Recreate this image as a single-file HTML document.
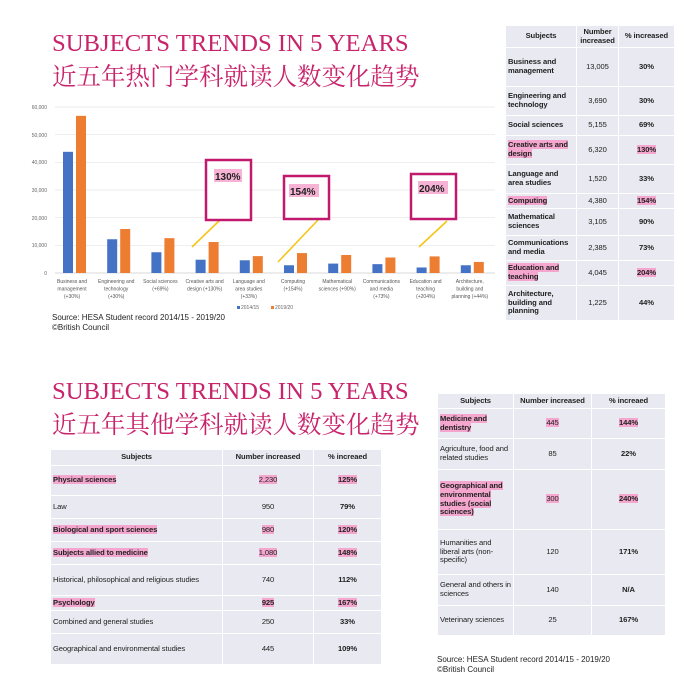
<!DOCTYPE html>
<html><head><meta charset="utf-8"><style>
*{margin:0;padding:0;box-sizing:border-box}
body{width:695px;height:693px;background:#fff;position:relative;overflow:hidden;font-family:"Liberation Sans","Noto Sans CJK SC",sans-serif;color:#222}
.t1{position:absolute;font-family:"Liberation Serif",serif;color:#c8246c;font-size:24.7px;white-space:nowrap}
.t2{position:absolute;font-family:"Liberation Serif","Noto Serif CJK SC",serif;color:#c8246c;font-size:24.5px;white-space:nowrap}
table{position:absolute;border-collapse:collapse;table-layout:fixed;font-size:7.6px;background:#e9eaf1;letter-spacing:-0.1px}
td{border:1.5px solid #fff;padding:0 2px;vertical-align:middle;line-height:1.15;overflow:hidden}
.c{text-align:center}.b{font-weight:bold}
.h{background:#f4a6cf}
.src{position:absolute;font-size:8px;line-height:10px;color:#222}
</style></head><body>
<div class="t1" style="left:52px;top:30px">SUBJECTS TRENDS IN 5 YEARS</div>
<div class="t2" style="left:52px;top:58px">近五年热门学科就读人数变化趋势</div>

<svg style="position:absolute;left:0;top:95px" width="500" height="240" viewBox="0 95 500 240">
<g stroke="#e4e4e4" stroke-width="0.7">
<line x1="55" y1="107" x2="495" y2="107"/><line x1="55" y1="134.7" x2="495" y2="134.7"/><line x1="55" y1="162.3" x2="495" y2="162.3"/><line x1="55" y1="190" x2="495" y2="190"/><line x1="55" y1="217.7" x2="495" y2="217.7"/><line x1="55" y1="245.3" x2="495" y2="245.3"/><line x1="55" y1="273" x2="495" y2="273" stroke="#ccc"/>
</g>
<g font-size="5" fill="#666" text-anchor="end" font-family="Liberation Sans">
<text x="47" y="109">60,000</text><text x="47" y="137">50,000</text><text x="47" y="164">40,000</text><text x="47" y="192">30,000</text><text x="47" y="220">20,000</text><text x="47" y="247">10,000</text><text x="47" y="275">0</text>
</g>
<g id="bars"></g>
<g font-size="5" fill="#555" text-anchor="middle" font-family="Liberation Sans" id="labs"></g>
<g stroke="#f5c518" stroke-width="1.6">
<line x1="220" y1="220" x2="192" y2="247"/><line x1="318" y1="220" x2="278" y2="262"/><line x1="447" y1="221" x2="419" y2="247"/>
</g>
<g fill="#fff" stroke="#c0196e" stroke-width="2.5">
<rect x="206" y="160" width="45" height="60"/><rect x="284" y="176" width="45" height="43"/><rect x="411" y="174" width="45" height="45"/>
</g>
<g font-size="10" font-weight="bold" font-family="Liberation Sans" fill="#222">
<rect x="214" y="169" width="28" height="13" fill="#f7b3d5"/><text x="215" y="180">130%</text>
<rect x="289" y="184" width="30" height="13" fill="#f7b3d5"/><text x="290" y="195">154%</text>
<rect x="418" y="181" width="30" height="13" fill="#f7b3d5"/><text x="419" y="192">204%</text>
</g>
<rect x="237" y="306" width="3" height="3" fill="#4472c4"/><text x="241" y="309" font-size="5" fill="#666">2014/15</text>
<rect x="271" y="306" width="3" height="3" fill="#ed7d31"/><text x="275" y="309" font-size="5" fill="#666">2019/20</text>
</svg>
<div class="src" style="left:52px;top:313px">Source: HESA Student record 2014/15 - 2019/20<br>©British Council</div>

<table style="left:505px;top:25px;width:170px;height:295px">
<colgroup><col style="width:71px"><col style="width:42px"><col></colgroup>
<tr style="height:22px"><td class="c b">Subjects</td><td class="c b" style="padding:0">Number increased</td><td class="c b" style="padding:0">% increased</td></tr>
<tr style="height:39px"><td class="b">Business and management</td><td class="c">13,005</td><td class="c b">30%</td></tr>
<tr style="height:29px"><td class="b">Engineering and technology</td><td class="c">3,690</td><td class="c b">30%</td></tr>
<tr style="height:20px"><td class="b">Social sciences</td><td class="c">5,155</td><td class="c b">69%</td></tr>
<tr style="height:29px"><td class="b"><span class="h">Creative arts and design</span></td><td class="c">6,320</td><td class="c b"><span class="h">130%</span></td></tr>
<tr style="height:29px"><td class="b">Language and area studies</td><td class="c">1,520</td><td class="c b">33%</td></tr>
<tr style="height:15px"><td class="b"><span class="h">Computing</span></td><td class="c">4,380</td><td class="c b"><span class="h">154%</span></td></tr>
<tr style="height:27px"><td class="b">Mathematical sciences</td><td class="c">3,105</td><td class="c b">90%</td></tr>
<tr style="height:25px"><td class="b">Communications and media</td><td class="c">2,385</td><td class="c b">73%</td></tr>
<tr style="height:25px"><td class="b"><span class="h">Education and teaching</span></td><td class="c">4,045</td><td class="c b"><span class="h">204%</span></td></tr>
<tr style="height:35px"><td class="b">Architecture, building and planning</td><td class="c">1,225</td><td class="c b">44%</td></tr>
</table>

<div class="t1" style="left:52px;top:378px">SUBJECTS TRENDS IN 5 YEARS</div>
<div class="t2" style="left:52px;top:406px">近五年其他学科就读人数变化趋势</div>

<table style="left:50px;top:449px;width:332px;height:215px">
<colgroup><col style="width:172px"><col style="width:91px"><col></colgroup>
<tr style="height:16px"><td class="c b">Subjects</td><td class="c b">Number increased</td><td class="c b">% increaed</td></tr>
<tr style="height:30px"><td class="b"><span class="h">Physical sciences</span></td><td class="c"><span class="h">2,230</span></td><td class="c b"><span class="h">125%</span></td></tr>
<tr style="height:23px"><td>Law</td><td class="c">950</td><td class="c b">79%</td></tr>
<tr style="height:23px"><td class="b"><span class="h">Biological and sport sciences</span></td><td class="c"><span class="h">980</span></td><td class="c b"><span class="h">120%</span></td></tr>
<tr style="height:23px"><td class="b"><span class="h">Subjects allied to medicine</span></td><td class="c"><span class="h">1,080</span></td><td class="c b"><span class="h">148%</span></td></tr>
<tr style="height:31px"><td>Historical, philosophical and religious studies</td><td class="c">740</td><td class="c b">112%</td></tr>
<tr style="height:15px"><td class="b"><span class="h">Psychology</span></td><td class="c b"><span class="h">925</span></td><td class="c b"><span class="h">167%</span></td></tr>
<tr style="height:23px"><td>Combined and general studies</td><td class="c">250</td><td class="c b">33%</td></tr>
<tr style="height:31px"><td>Geographical and environmental studies</td><td class="c">445</td><td class="c b">109%</td></tr>
</table>

<table style="left:437px;top:393px;width:229px;height:242px">
<colgroup><col style="width:76px"><col style="width:78px"><col></colgroup>
<tr style="height:15px"><td class="c b">Subjects</td><td class="c b">Number increased</td><td class="c b">% increaed</td></tr>
<tr style="height:30px"><td class="b"><span class="h">Medicine and dentistry</span></td><td class="c"><span class="h">445</span></td><td class="c b"><span class="h">144%</span></td></tr>
<tr style="height:31px"><td>Agriculture, food and related studies</td><td class="c">85</td><td class="c b">22%</td></tr>
<tr style="height:60px"><td class="b"><span class="h">Geographical and environmental studies (social sciences)</span></td><td class="c"><span class="h">300</span></td><td class="c b"><span class="h">240%</span></td></tr>
<tr style="height:45px"><td>Humanities and liberal arts (non-specific)</td><td class="c">120</td><td class="c b">171%</td></tr>
<tr style="height:31px"><td>General and others in sciences</td><td class="c">140</td><td class="c b">N/A</td></tr>
<tr style="height:30px"><td>Veterinary sciences</td><td class="c">25</td><td class="c b">167%</td></tr>
</table>
<div class="src" style="left:437px;top:655px">Source: HESA Student record 2014/15 - 2019/20<br>©British Council</div>

<script>
var b=[43800,12200,7500,4800,4600,2800,3400,3200,2000,2800],o=[56800,15900,12600,11200,6100,7200,6500,5600,6000,4000];
var L=[["Business and","management","(+30%)"],["Engineering and","technology","(+30%)"],["Social sciences","(+69%)"],["Creative arts and","design (+130%)"],["Language and","area studies","(+33%)"],["Computing","(+154%)"],["Mathematical","sciences (+90%)"],["Communications","and media","(+73%)"],["Education and","teaching","(+204%)"],["Architecture,","building and","planning (+44%)"]];
var s="",t="",k=166/60000;
for(var i=0;i<10;i++){var c=72+44.2*i;
s+='<rect x="'+(c-9)+'" y="'+(273-b[i]*k)+'" width="10" height="'+b[i]*k+'" fill="#4472c4"/>';
s+='<rect x="'+(c+4)+'" y="'+(273-o[i]*k)+'" width="10" height="'+o[i]*k+'" fill="#ed7d31"/>';
for(var j=0;j<L[i].length;j++)t+='<text x="'+c+'" y="'+(283+j*7.5)+'">'+L[i][j]+'</text>';}
document.getElementById("bars").innerHTML=s;document.getElementById("labs").innerHTML=t;
</script>
</body></html>
